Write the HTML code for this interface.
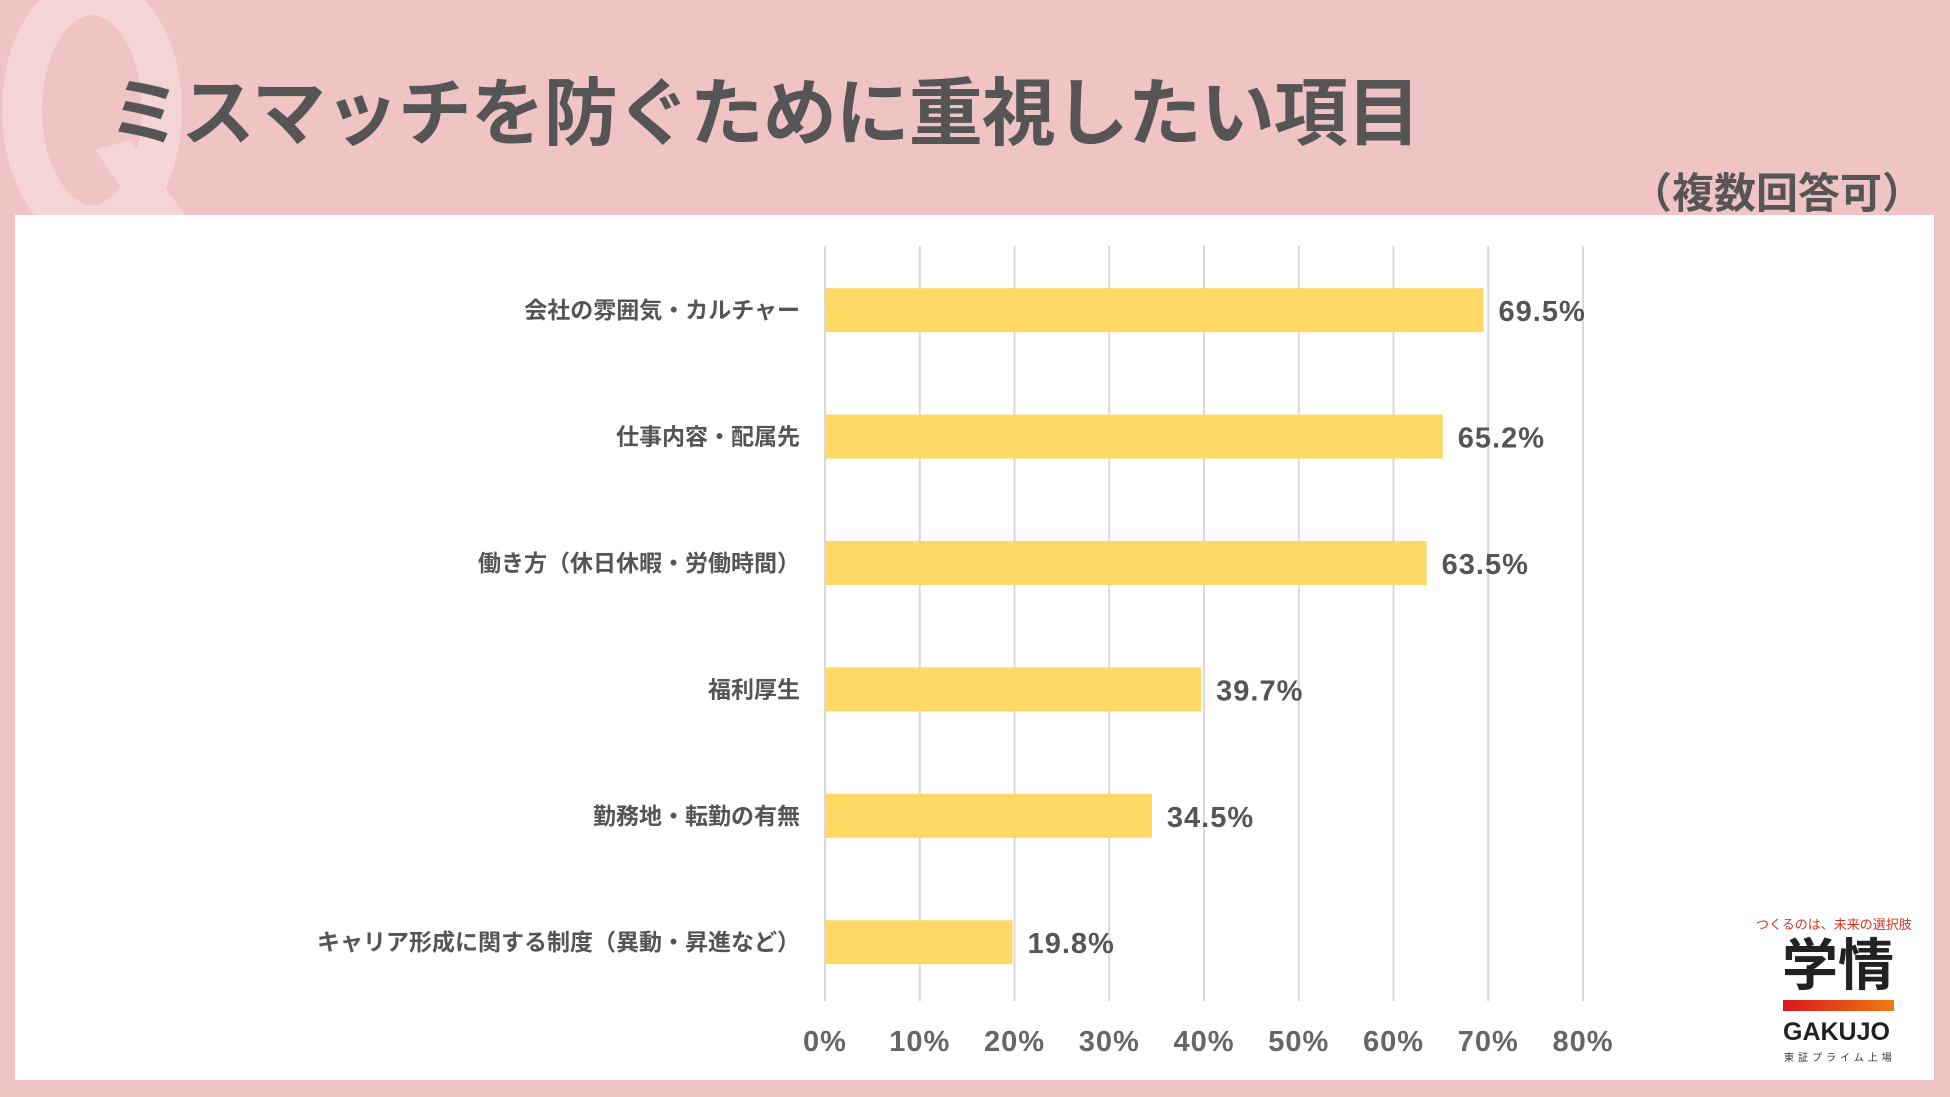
<!DOCTYPE html>
<html><head><meta charset="utf-8"><style>
body{margin:0;width:1950px;height:1097px;background:#f0c4c5;position:relative;overflow:hidden;font-family:"Liberation Sans","Noto Sans CJK JP",sans-serif;}
.abs{position:absolute;}
</style></head><body>
<svg class="abs" style="left:0;top:0" width="220" height="215">
<ellipse cx="92" cy="110" rx="70" ry="115" fill="none" stroke="#f4d4d5" stroke-width="40"/>
<path d="M95 150 L140 215 L185 215 L130 140Z" fill="#f4d4d5"/>
</svg>
<div class="abs" style="left:108px;top:54px;font-size:74px;font-weight:bold;color:#555;letter-spacing:-1px;white-space:nowrap;">ミスマッチを防ぐために重視したい項目</div>
<div class="abs" style="left:1630px;top:160px;font-size:42px;font-weight:bold;color:#555;white-space:nowrap;">（複数回答可）</div>
<div class="abs" style="left:15px;top:215px;width:1919px;height:865px;background:#fff;"></div>
<svg class="abs" id="chart" style="left:0;top:0" width="1950" height="1097"></svg>
<div class="abs" style="left:1756px;top:914px;font-size:13px;color:#d8321f;white-space:nowrap;">つくるのは、未来の選択肢</div>
<div class="abs" style="left:1782px;top:934px;font-size:56px;font-weight:bold;color:#222;white-space:nowrap;line-height:64px;">学情</div>
<div class="abs" style="left:1783px;top:1000px;width:111px;height:11px;background:linear-gradient(90deg,#d8161e,#f07a10);"></div>
<div class="abs" style="left:1783px;top:1018px;font-size:25px;font-weight:bold;color:#222;white-space:nowrap;">GAKUJO</div>
<div class="abs" style="left:1784px;top:1049px;font-size:10px;color:#333;letter-spacing:4px;white-space:nowrap;">東証プライム上場</div>
<script>
const categories=["会社の雰囲気・カルチャー","仕事内容・配属先","働き方（休日休暇・労働時間）","福利厚生","勤務地・転勤の有無","キャリア形成に関する制度（異動・昇進など）"];
const values=[69.5,65.2,63.5,39.7,34.5,19.8];
const ticks=[0,10,20,30,40,50,60,70,80];
const NS="http://www.w3.org/2000/svg";
const svg=document.getElementById('chart');
const x0=825,x1=1583,yTop=246,yBot=1001,rowTop=247,rowH=126.4,barH=44;
const xs=v=>x0+(v-ticks[0])/(ticks[ticks.length-1]-ticks[0])*(x1-x0);
const yc=i=>rowTop+rowH*(i+0.5);
function mk(t,a){const e=document.createElementNS(NS,t);for(const k in a)e.setAttribute(k,a[k]);svg.appendChild(e);return e;}
ticks.forEach(t=>{
 const g=mk('line',{x1:xs(t),x2:xs(t),y1:yTop,y2:yBot,stroke:'#d9d9d9','stroke-width':2});
 
 
 const l=mk('text',{x:xs(t),y:1051,'text-anchor':'middle','font-size':29,'font-weight':'bold',fill:'#666','letter-spacing':1});
 l.textContent=t+'%';
 
 
});
categories.forEach((c,i)=>{
 const y=yc(i);
 const b=mk('rect',{x:xs(0),y:y-barH/2,width:xs(values[i])-xs(0),height:barH,fill:'#ffd966'});
 
 
 const v=mk('text',{x:xs(values[i])+15,y:y+11,'font-size':29,'font-weight':'bold',fill:'#555','letter-spacing':1});
 v.textContent=values[i].toFixed(1)+'%';
 
 
 const t=mk('text',{x:800,y:y+8,'text-anchor':'end','font-size':23,'font-weight':'bold',fill:'#555'});
 t.textContent=c;
 
 
});
</script>
</body></html>
